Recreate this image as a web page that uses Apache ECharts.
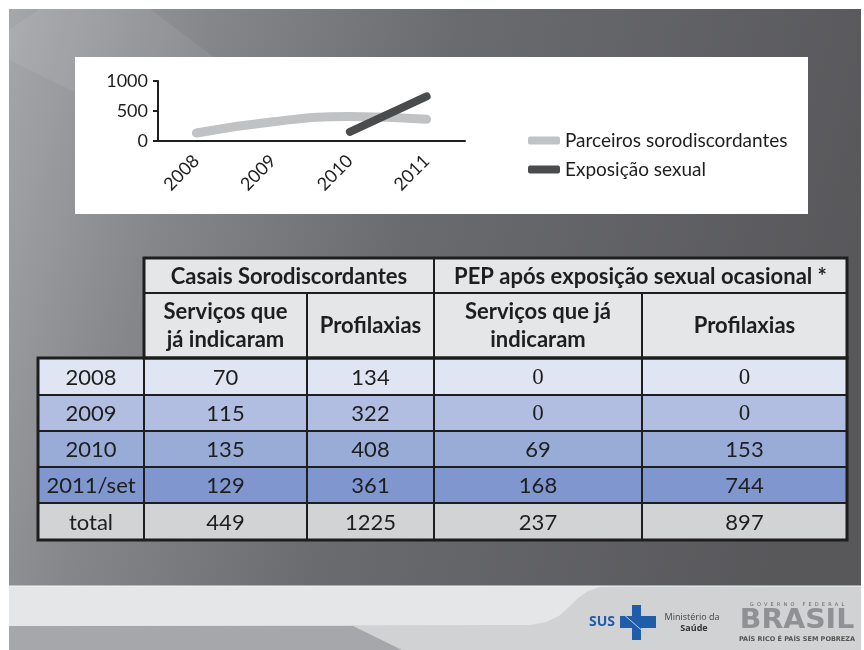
<!DOCTYPE html>
<html>
<head>
<meta charset="utf-8">
<script src="https://cdn.jsdelivr.net/npm/echarts@6/dist/echarts.min.js"></script>
<style>
  html, body { margin: 0; padding: 0; background: #fff; }
  #chart { width: 864px; height: 650px; }
</style>
</head>
<body>
<div id="chart"></div>
<script>
// chart data
var years = ['2008', '2009', '2010', '2011'];
var parceiros = [134, 322, 408, 361];
var exposicao = ['-', '-', 153, 744];
var seriesNames = ['Parceiros sorodiscordantes', 'Exposição sexual'];

// table data
var rowLabels = ['2008', '2009', '2010', '2011/set', 'total'];
var casaisServicos = [70, 115, 135, 129, 449];
var casaisProfilaxias = [134, 322, 408, 361, 1225];
var pepServicos = [0, 0, 69, 168, 237];
var pepProfilaxias = [0, 0, 153, 744, 897];

var ink = '#1e1e1e';
var colX = [38, 144, 307, 434, 642, 847];
var rowY = [258, 293, 358, 395, 431, 467, 503, 540];
var rowColors = ['#dfe5f3', '#b2bee1', '#99acd7', '#7f96ce', '#d2d3d5'];
var headFill = '#e5e6e8';

function cell(x0, y0, x1, y1, fill) {
    return {
        type: 'rect', z: 1,
        shape: { x: x0, y: y0, width: x1 - x0, height: y1 - y0 },
        style: { fill: fill, stroke: ink, lineWidth: 2 }
    };
}
function txt(x, y, s, size, bold, serif) {
    return {
        type: 'text', z: 2, x: x, y: y,
        style: {
            text: String(s), fill: ink, align: 'center', verticalAlign: 'middle',
            fontSize: size, fontWeight: bold ? 'bold' : 'normal',
            fontFamily: serif ? 'Liberation Serif' : 'Lato',
            lineHeight: 28
        }
    };
}

var g = [];

// slide background
g.push({
    type: 'rect', z: -10, shape: { x: 9, y: 9, width: 852, height: 641 },
    style: {
        fill: new echarts.graphic.LinearGradient(0, 0, 1, 0.35, [
            { offset: 0, color: '#a6a7ab' },
            { offset: 0.22, color: '#86878b' },
            { offset: 0.5, color: '#6a6b6f' },
            { offset: 1, color: '#58585b' }
        ])
    }
});
g.push({
    type: 'polygon', z: -9,
    shape: { points: [[40, 9], [150, 9], [260, 92], [75, 92], [9, 60], [9, 30]] },
    style: { fill: 'rgba(255,255,255,0.07)' }
});

// footer
g.push({ type: 'rect', z: -8, shape: { x: 9, y: 586, width: 852, height: 64 }, style: { fill: '#d1d2d4' } });
g.push({ type: 'polygon', z: -7, shape: { points: [[9, 626], [353, 626], [402, 650], [9, 650]] }, style: { fill: '#a6a7aa' } });
g.push({
    type: 'polygon', z: -7,
    shape: { points: [[9, 586], [614, 586], [600, 587], [588, 591], [578, 598], [569, 607], [559, 616], [546, 622], [530, 625], [9, 626]] },
    style: { fill: '#e5e6e8' }
});
g.push({ type: 'line', z: -7, shape: { x1: 9, y1: 586, x2: 861, y2: 586 }, style: { stroke: '#f2f2f3', lineWidth: 1 } });

// logos
g.push({ type: 'text', z: -6, x: 589, y: 622, style: { text: 'SUS', fill: '#1f5ca9', fontSize: 14, fontWeight: 'bold', fontFamily: 'Open Sans', verticalAlign: 'middle' } });
g.push({ type: 'rect', z: -6, shape: { x: 632, y: 605, width: 9, height: 35 }, style: { fill: '#1f5ca9' } });
g.push({ type: 'rect', z: -6, shape: { x: 620, y: 616, width: 36, height: 12 }, style: { fill: '#1f5ca9' } });
g.push({ type: 'line', z: -5, shape: { x1: 622, y1: 613, x2: 646, y2: 634 }, style: { stroke: '#b9cde6', lineWidth: 1 } });
g.push({ type: 'text', z: -6, x: 692, y: 617, style: { text: 'Ministério da', fill: '#444', fontSize: 9, fontFamily: 'Open Sans', align: 'center', verticalAlign: 'middle' } });
g.push({ type: 'text', z: -6, x: 694, y: 628, style: { text: 'Saúde', fill: '#333', fontSize: 9, fontWeight: 'bold', fontFamily: 'Open Sans', align: 'center', verticalAlign: 'middle' } });
g.push({ type: 'text', z: -6, x: 797, y: 605, style: { text: 'G  O  V  E  R  N  O     F  E  D  E  R  A  L', fill: '#666', fontSize: 5, fontFamily: 'DejaVu Sans', align: 'center', verticalAlign: 'middle' } });
g.push({
    type: 'text', z: -6, x: 797, y: 621, scaleX: 1.05,
    style: {
        text: 'BRASIL', fontSize: 27, fontWeight: 'bold', fontFamily: 'DejaVu Sans', align: 'center', verticalAlign: 'middle',
        fill: '#909194'
    }
});
g.push({ type: 'text', z: -6, x: 797, y: 639, style: { text: 'PAÍS RICO É PAÍS SEM POBREZA', fill: '#555', fontSize: 6.5, fontWeight: 'bold', fontFamily: 'DejaVu Sans', align: 'center', verticalAlign: 'middle' } });

// white chart box
g.push({ type: 'rect', z: -5, shape: { x: 75, y: 57, width: 733, height: 157 }, style: { fill: '#ffffff' } });

// table headers
g.push(cell(colX[1], rowY[0], colX[3], rowY[1], headFill));
g.push(cell(colX[3], rowY[0], colX[5], rowY[1], headFill));
g.push(txt((colX[1] + colX[3]) / 2, (rowY[0] + rowY[1]) / 2 + 1, 'Casais Sorodiscordantes', 22, true));
g.push(txt((colX[3] + colX[5]) / 2, (rowY[0] + rowY[1]) / 2 + 1, 'PEP após exposição sexual ocasional *', 22, true));
var subHeads = ['Serviços que\njá indicaram', 'Profilaxias', 'Serviços que já\nindicaram', 'Profilaxias'];
for (var c = 0; c < 4; c++) {
    g.push(cell(colX[c + 1], rowY[1], colX[c + 2], rowY[2], headFill));
    g.push(txt((colX[c + 1] + colX[c + 2]) / 2, (rowY[1] + rowY[2]) / 2, subHeads[c], 22, true));
}

// table body
var cols = [rowLabels, casaisServicos, casaisProfilaxias, pepServicos, pepProfilaxias];
for (var r = 0; r < rowLabels.length; r++) {
    var y0 = rowY[r + 2], y1 = rowY[r + 3];
    for (var k = 0; k < cols.length; k++) {
        var v = cols[k][r];
        g.push(cell(colX[k], y0, colX[k + 1], y1, rowColors[r]));
        g.push(txt((colX[k] + colX[k + 1]) / 2, (y0 + y1) / 2 + 1, v, v === 0 ? 23 : 22, false, v === 0));
    }
}
// outer frame
g.push({ type: 'rect', z: 3, shape: { x: colX[0], y: rowY[2], width: colX[5] - colX[0], height: rowY[7] - rowY[2] }, style: { fill: null, stroke: ink, lineWidth: 3 } });
g.push({ type: 'rect', z: 3, shape: { x: colX[1], y: rowY[0], width: colX[5] - colX[1], height: rowY[2] - rowY[0] }, style: { fill: null, stroke: ink, lineWidth: 3 } });

var chartDom = document.getElementById('chart');
var myChart = echarts.init(chartDom);
var option;

option = {
    animation: false,
    backgroundColor: '#ffffff',
    graphic: { elements: g },
    grid: { left: 158, right: 399, top: 81, bottom: 509 },
    legend: {
        orient: 'vertical',
        left: 523,
        top: 126,
        itemWidth: 32,
        itemHeight: 8,
        itemGap: 10,
        icon: 'roundRect',
        textStyle: { fontSize: 19, color: ink, fontFamily: 'Lato' },
        data: seriesNames
    },
    xAxis: {
        type: 'category',
        data: years,
        axisLine: { lineStyle: { color: ink, width: 2 } },
        axisTick: { length: 6, lineStyle: { color: ink, width: 2 } },
        axisLabel: { rotate: 45, fontSize: 18, color: ink, fontFamily: 'Lato', margin: 17 }
    },
    yAxis: {
        type: 'value',
        min: 0,
        max: 1000,
        interval: 500,
        splitLine: { show: false },
        axisLine: { show: true, lineStyle: { color: ink, width: 2 } },
        axisTick: { show: true, length: 5, lineStyle: { color: ink, width: 2 } },
        axisLabel: {
            fontSize: 18, color: ink, fontFamily: 'Lato', margin: 10,
            formatter: function (v) { return String(v); }
        }
    },
    series: [
        {
            name: seriesNames[0],
            type: 'line',
            data: parceiros,
            smooth: true,
            symbol: 'none',
            color: '#c1c2c4',
            lineStyle: { width: 9, cap: 'round', color: '#c1c2c4' }
        },
        {
            name: seriesNames[1],
            type: 'line',
            data: exposicao,
            smooth: true,
            symbol: 'none',
            color: '#4a4b4d',
            lineStyle: { width: 8, cap: 'round', color: '#4a4b4d' }
        }
    ]
};

option && myChart.setOption(option);
</script>
</body>
</html>
